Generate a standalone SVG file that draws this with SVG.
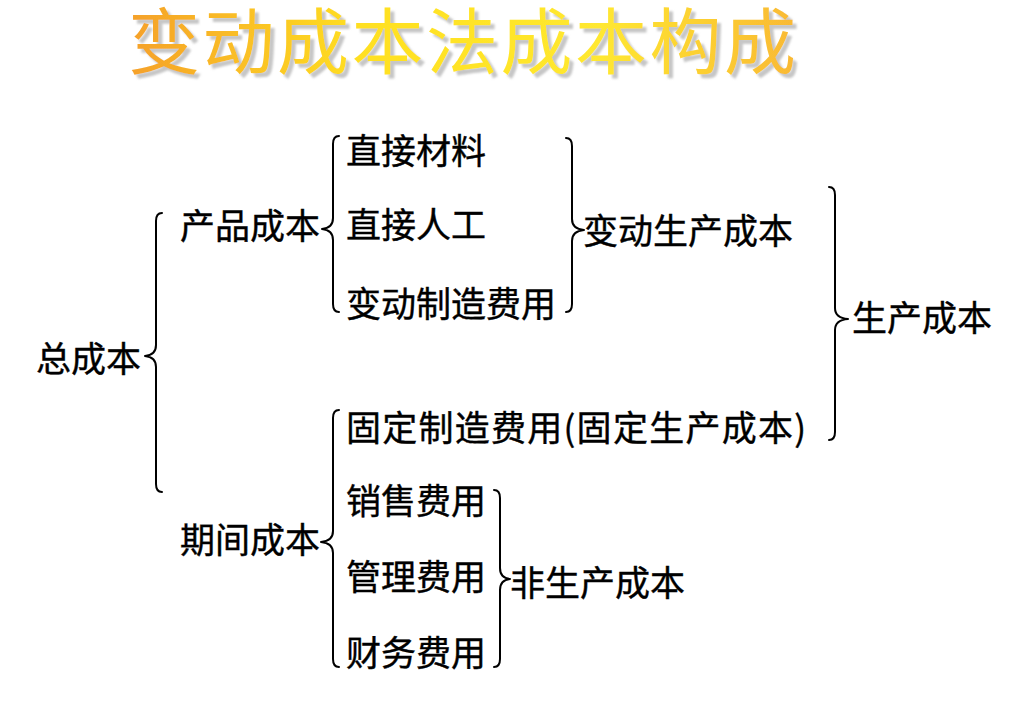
<svg xmlns="http://www.w3.org/2000/svg" width="1024" height="723" viewBox="0 0 1024 723">
  <defs>
    <linearGradient id="titleGrad" gradientUnits="userSpaceOnUse" x1="127" y1="0" x2="800" y2="0">
      <stop offset="0" stop-color="#F5A02A"/>
      <stop offset="0.35" stop-color="#FFE020"/>
      <stop offset="0.7" stop-color="#FFE830"/>
      <stop offset="1" stop-color="#F9B834"/>
    </linearGradient>
    <filter id="titleShadow" x="-5%" y="-20%" width="110%" height="150%">
      <feOffset in="SourceAlpha" dx="4" dy="4" result="off"/>
      <feGaussianBlur in="off" stdDeviation="1" result="blur"/>
      <feFlood flood-color="#B8B8B8" flood-opacity="0.8"/>
      <feComposite in2="blur" operator="in" result="shadow"/>
      <feMerge>
        <feMergeNode in="shadow"/>
        <feMergeNode in="SourceGraphic"/>
      </feMerge>
    </filter>
  </defs>
  <style>
    .lbl { font-family: "Noto Sans CJK SC", "Noto Sans", sans-serif; font-size: 35px; fill: #000; stroke: #000; stroke-width: 0.4; }
    .title { font-family: "Noto Sans CJK SC", "Noto Sans", sans-serif; font-size: 72px; }
    .brace { fill: none; stroke: #000; stroke-width: 2; stroke-linejoin: round; stroke-linecap: round; }
  </style>
  <rect width="1024" height="723" fill="#fff"/>

  <g id="title">
    <text class="title" x="128" y="68" fill="url(#titleGrad)" textLength="668" lengthAdjust="spacing" filter="url(#titleShadow)">变动成本法成本构成</text>
  </g>

  <g id="connectors">
    <path class="brace" d="M 162 213 Q 156 213 156 221 L 156 345 Q 156 355 145 356 Q 156 357 156 367 L 156 484 Q 156 492 162 492"/>
    <path class="brace" d="M 339 136 Q 333 136 333 144 L 333 218 Q 333 228 322 229 Q 333 230 333 240 L 333 304 Q 333 312 339 312"/>
    <path class="brace" d="M 339 410 Q 333 410 333 418 L 333 531 Q 333 541 321 542 Q 333 543 333 553 L 333 659 Q 333 667 339 667"/>
    <path class="brace" d="M 566 138 Q 572 138 572 146 L 572 219 Q 572 229 584 230 Q 572 231 572 241 L 572 304 Q 572 312 566 312"/>
    <path class="brace" d="M 829 187 Q 835 187 835 195 L 835 308 Q 835 318 848 319 Q 835 320 835 330 L 835 432 Q 835 440 829 440"/>
    <path class="brace" d="M 494 490 Q 500 490 500 498 L 500 568 Q 500 578 510 579 Q 500 580 500 590 L 500 659 Q 500 667 494 667"/>
  </g>

  <g id="total"><text class="lbl" x="36" y="372">总成本</text></g>
  <g id="product-cost"><text class="lbl" x="180" y="239">产品成本</text></g>
  <g id="period-cost"><text class="lbl" x="180" y="553">期间成本</text></g>
  <g id="direct-material"><text class="lbl" x="346" y="164">直接材料</text></g>
  <g id="direct-labor"><text class="lbl" x="346" y="238">直接人工</text></g>
  <g id="variable-overhead"><text class="lbl" x="346" y="317">变动制造费用</text></g>
  <g id="variable-production-cost"><text class="lbl" x="583" y="244">变动生产成本</text></g>
  <g id="production-cost"><text class="lbl" x="852" y="331">生产成本</text></g>
  <g id="fixed-overhead"><text class="lbl" x="346" y="441" textLength="460" lengthAdjust="spacing">固定制造费用(固定生产成本)</text></g>
  <g id="selling"><text class="lbl" x="346" y="514">销售费用</text></g>
  <g id="admin"><text class="lbl" x="346" y="590">管理费用</text></g>
  <g id="finance"><text class="lbl" x="346" y="666">财务费用</text></g>
  <g id="non-production-cost"><text class="lbl" x="510" y="596">非生产成本</text></g>
</svg>
